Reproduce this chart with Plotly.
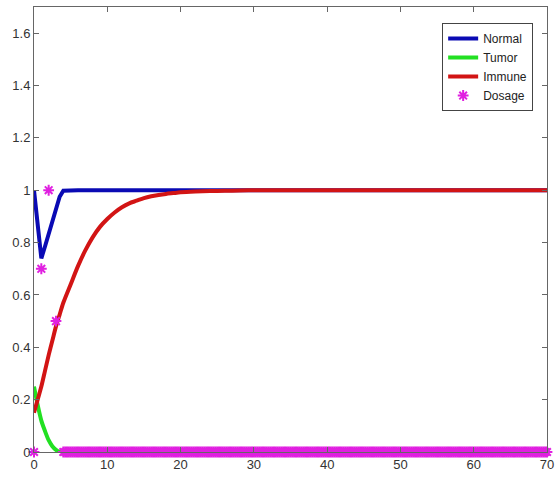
import plotly.graph_objects as go

# time grid (finer at the start)
t = [0, 0.5, 1, 1.5, 2, 2.5, 3, 3.5, 4, 5, 6, 7, 8, 9, 10, 11, 12, 13, 14, 15,
     16, 17, 18, 19, 20, 22, 24, 26, 28, 30, 35, 40, 45, 50, 55, 60, 65, 70]

normal = [1.0, 0.87, 0.74, 0.785, 0.83, 0.88, 0.93, 0.975, 0.998, 1.0, 1.0, 1.0, 1.0, 1.0,
          1.0, 1.0, 1.0, 1.0, 1.0, 1.0, 1.0, 1.0, 1.0, 1.0, 1.0, 1.0, 1.0, 1.0, 1.0,
          1.0, 1.0, 1.0, 1.0, 1.0, 1.0, 1.0, 1.0, 1.0]

tumor = [0.25, 0.18, 0.12, 0.08, 0.045, 0.022, 0.008, 0.0, 0.0, 0.0, 0.0, 0.0, 0.0, 0.0,
         0.0, 0.0, 0.0, 0.0, 0.0, 0.0, 0.0, 0.0, 0.0, 0.0, 0.0, 0.0, 0.0, 0.0, 0.0,
         0.0, 0.0, 0.0, 0.0, 0.0, 0.0, 0.0, 0.0, 0.0]

immune = [0.15, 0.2, 0.25, 0.31, 0.37, 0.425, 0.48, 0.525, 0.57, 0.64, 0.71, 0.77, 0.82,
          0.86, 0.89, 0.915, 0.935, 0.95, 0.96, 0.97, 0.977, 0.982, 0.986, 0.989, 0.992,
          0.995, 0.997, 0.998, 0.999, 1.0, 1.0, 1.0, 1.0, 1.0, 1.0, 1.0, 1.0, 1.0]

dose_t = [0, 1, 2, 3] + [4 + 0.25 * i for i in range(265)]
dose = [0.0, 0.7, 1.0, 0.5] + [0.0] * 265

x_ticks = [0, 10, 20, 30, 40, 50, 60, 70]
y_ticks = [0, 0.2, 0.4, 0.6, 0.8, 1, 1.2, 1.4, 1.6]
y_labels = ["0", "0.2", "0.4", "0.6", "0.8", "1", "1.2", "1.4", "1.6"]

fig = go.Figure()
fig.add_trace(go.Scatter(x=t, y=normal, mode="lines", name="Normal",
                         line=dict(color="#0a0ab4", width=4)))
fig.add_trace(go.Scatter(x=t, y=tumor, mode="lines", name="Tumor",
                         line=dict(color="#22e022", width=4, shape="spline", smoothing=0.8)))
fig.add_trace(go.Scatter(x=t, y=immune, mode="lines", name="Immune",
                         line=dict(color="#d21414", width=4, shape="spline", smoothing=0.8)))
fig.add_trace(go.Scatter(x=dose_t, y=dose, mode="markers", name="Dosage", cliponaxis=False,
                         marker=dict(symbol="asterisk-open", size=9,
                                     color="#e020e0",
                                     line=dict(color="#e020e0", width=2))))

axis_common = dict(showgrid=False, zeroline=False, showline=True, linecolor="#666666",
                   linewidth=1, mirror="ticks", ticks="inside", ticklen=5,
                   tickcolor="#666666", automargin=False,
                   tickfont=dict(family="Liberation Sans, Arial", size=13, color="#333333"))

fig.update_layout(
    width=555, height=483,
    margin=dict(l=34, r=8, t=7, b=31),
    plot_bgcolor="white", paper_bgcolor="white",
    showlegend=True,
    legend=dict(x=0.973, y=0.964, xanchor="right", yanchor="top",
                bordercolor="#444444", borderwidth=1, bgcolor="white",
                font=dict(family="Liberation Sans, Arial", size=12, color="#222222"),
                tracegroupgap=0, itemwidth=30),
    xaxis=dict(range=[0, 70], tickvals=x_ticks, ticktext=[str(v) for v in x_ticks],
               **axis_common),
    yaxis=dict(range=[0, 1.7], tickvals=y_ticks, ticktext=y_labels, **axis_common),
)

fig.write_html("out.html", config={"displayModeBar": False},
               post_script="document.body.style.margin='0';document.body.style.overflow='hidden';")
